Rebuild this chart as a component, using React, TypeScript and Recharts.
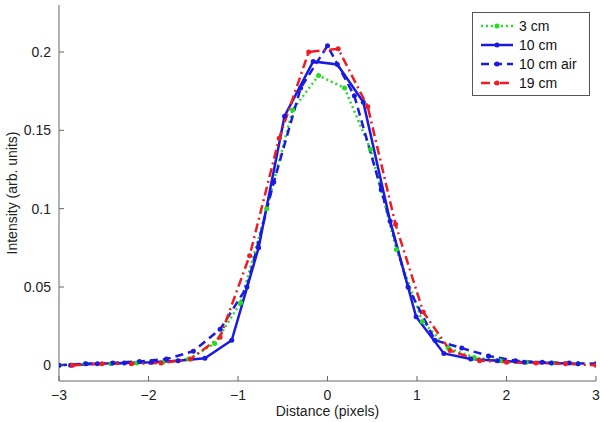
import React from 'react';
import { LineChart, Line, XAxis, YAxis } from 'recharts';

// distance (pixels) / intensity pairs
const dist3cm = [-3.0, -2.71, -2.42, -2.13, -1.84, -1.55, -1.26, -0.97, -0.68, -0.39, -0.1, 0.19, 0.48, 0.77, 1.06, 1.35, 1.64, 1.93, 2.22, 2.51, 2.8];
const int3cm = [0.0, 0.001, 0.001, 0.0015, 0.002, 0.004, 0.014, 0.04, 0.1, 0.163, 0.185, 0.177, 0.138, 0.074, 0.028, 0.011, 0.005, 0.003, 0.002, 0.0015, 0.001];

const dist10cm = [-2.87, -2.57, -2.27, -1.97, -1.67, -1.37, -1.07, -0.77, -0.48, -0.16, 0.11, 0.4, 0.7, 0.99, 1.3, 1.6, 1.9, 2.2, 2.5, 2.8];
const int10cm = [0.0, 0.001, 0.0015, 0.002, 0.003, 0.0045, 0.016, 0.075, 0.159, 0.194, 0.192, 0.168, 0.092, 0.031, 0.0076, 0.004, 0.003, 0.002, 0.0015, 0.001];

const dist10air = [-3.0, -2.7, -2.4, -2.1, -1.8, -1.5, -1.2, -0.9, -0.6, -0.3, 0.0, 0.3, 0.6, 0.9, 1.2, 1.5, 1.8, 2.1, 2.4, 2.7, 3.0];
const int10air = [0.0, 0.001, 0.0015, 0.0025, 0.004, 0.009, 0.023, 0.05, 0.117, 0.177, 0.204, 0.172, 0.112, 0.05, 0.016, 0.011, 0.006, 0.003, 0.002, 0.0015, 0.001];

const dist19cm = [-2.85, -2.52, -2.19, -1.86, -1.53, -1.2, -0.87, -0.54, -0.21, 0.12, 0.45, 0.76, 1.07, 1.37, 1.7, 2.0, 2.33, 2.66, 3.0];
const int19cm = [0.0, 0.001, 0.001, 0.0015, 0.004, 0.018, 0.07, 0.145, 0.2, 0.202, 0.165, 0.09, 0.034, 0.0095, 0.003, 0.002, 0.0015, 0.001, 0.0];

const xTicks = [-3, -2, -1, 0, 1, 2, 3];
const yTicks = [0, 0.05, 0.1, 0.15, 0.2];

const toPoints = (xs: number[], ys: number[]) => xs.map((x, i) => ({ x, y: ys[i] }));

const series = [
  { name: '3 cm', data: toPoints(dist3cm, int3cm), color: '#22dd22', dash: '2 3' },
  { name: '10 cm', data: toPoints(dist10cm, int10cm), color: '#1a1ae0', dash: undefined },
  { name: '10 cm air', data: toPoints(dist10air, int10air), color: '#1a1ae0', dash: '8 5' },
  { name: '19 cm', data: toPoints(dist19cm, int19cm), color: '#ee1c24', dash: '9 4 2 4' },
];

const font = '"Liberation Sans", Arial, sans-serif';
const axisColor = '#666';
const textColor = '#222';

const fmtX = (v: number) => (v < 0 ? '\u2212' + Math.abs(v) : String(v));

const LegendBox = () => (
  <div
    style={{
      position: 'absolute',
      left: 472,
      top: 12,
      width: 118,
      boxSizing: 'border-box',
      border: '1px solid #555',
      background: '#fff',
      padding: '3px 6px 3px 7px',
      fontFamily: font,
      fontSize: 14,
      color: '#111',
    }}
  >
    {series.map((s) => (
      <div key={s.name} style={{ display: 'flex', alignItems: 'center', height: 19 }}>
        <svg width={34} height={10} style={{ marginRight: 5 }}>
          <line x1={1} y1={5} x2={33} y2={5} stroke={s.color} strokeWidth={2.5} strokeDasharray={s.dash} />
          <circle cx={17} cy={5} r={2.5} fill={s.color} />
        </svg>
        <span>{s.name}</span>
      </div>
    ))}
  </div>
);

const App: React.FC = () => {
  return (
    <div style={{ position: 'absolute', left: 0, top: 0, width: 600, height: 422, background: '#fff' }}>
      <LineChart width={600} height={422} margin={{ top: 5, right: 4, bottom: 11, left: 0 }}>
        <XAxis
          type="number"
          dataKey="x"
          domain={[-3, 3]}
          ticks={xTicks}
          tickFormatter={fmtX}
          height={30}
          stroke={axisColor}
          tickSize={-5}
          tickMargin={14}
          tick={{ fill: textColor, fontSize: 14, fontFamily: font }}
          allowDataOverflow
          label={{ value: 'Distance (pixels)', position: 'insideBottom', offset: -5, fill: textColor, fontSize: 14, fontFamily: font }}
        />
        <YAxis
          type="number"
          dataKey="y"
          domain={[-0.01, 0.23]}
          ticks={yTicks}
          width={59}
          stroke={axisColor}
          tickSize={-5}
          tickMargin={13}
          tick={{ fill: textColor, fontSize: 14, fontFamily: font }}
          allowDataOverflow
          label={{
            value: 'Intensity (arb. units)',
            angle: -90,
            position: 'insideLeft',
            offset: 12,
            fill: textColor,
            fontSize: 14,
            fontFamily: font,
            style: { textAnchor: 'middle' },
          }}
        />
        {series.map((s) => (
          <Line
            key={s.name}
            name={s.name}
            data={s.data}
            dataKey="y"
            type="linear"
            stroke={s.color}
            strokeWidth={2.5}
            strokeDasharray={s.dash}
            dot={{ r: 2.5, fill: s.color, stroke: 'none', strokeDasharray: 'none' }}
            activeDot={false}
            isAnimationActive={false}
          />
        ))}
      </LineChart>
      <LegendBox />
    </div>
  );
};

export default App;
